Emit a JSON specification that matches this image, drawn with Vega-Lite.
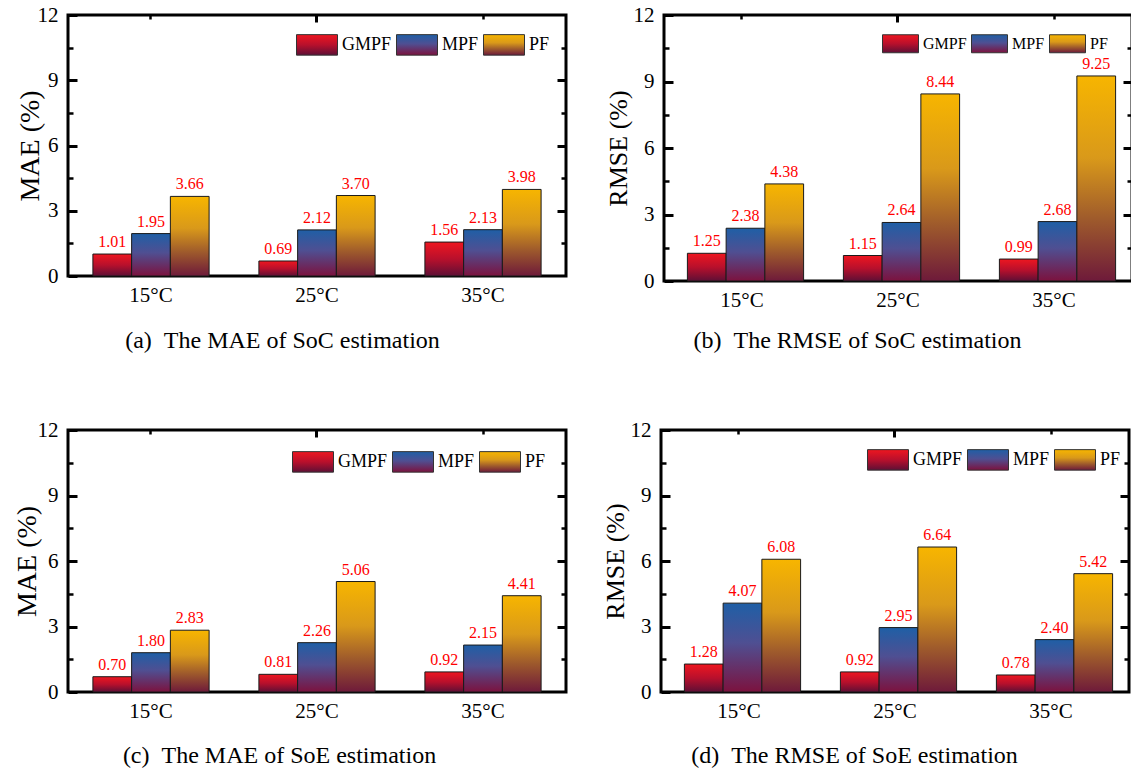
{
  "$schema": "https://vega.github.io/schema/vega-lite/v6.json",
  "background": "white",
  "padding": {"left": 11, "top": 2, "right": 0, "bottom": 0},
  "data": {"name": "errors"},
  "datasets": {
    "errors": [
      {"panel": "a", "temp": "15°C", "method": "GMPF", "value": 1.01},
      {"panel": "a", "temp": "15°C", "method": "MPF", "value": 1.95},
      {"panel": "a", "temp": "15°C", "method": "PF", "value": 3.66},
      {"panel": "a", "temp": "25°C", "method": "GMPF", "value": 0.69},
      {"panel": "a", "temp": "25°C", "method": "MPF", "value": 2.12},
      {"panel": "a", "temp": "25°C", "method": "PF", "value": 3.70},
      {"panel": "a", "temp": "35°C", "method": "GMPF", "value": 1.56},
      {"panel": "a", "temp": "35°C", "method": "MPF", "value": 2.13},
      {"panel": "a", "temp": "35°C", "method": "PF", "value": 3.98},
      {"panel": "b", "temp": "15°C", "method": "GMPF", "value": 1.25},
      {"panel": "b", "temp": "15°C", "method": "MPF", "value": 2.38},
      {"panel": "b", "temp": "15°C", "method": "PF", "value": 4.38},
      {"panel": "b", "temp": "25°C", "method": "GMPF", "value": 1.15},
      {"panel": "b", "temp": "25°C", "method": "MPF", "value": 2.64},
      {"panel": "b", "temp": "25°C", "method": "PF", "value": 8.44},
      {"panel": "b", "temp": "35°C", "method": "GMPF", "value": 0.99},
      {"panel": "b", "temp": "35°C", "method": "MPF", "value": 2.68},
      {"panel": "b", "temp": "35°C", "method": "PF", "value": 9.25},
      {"panel": "c", "temp": "15°C", "method": "GMPF", "value": 0.70},
      {"panel": "c", "temp": "15°C", "method": "MPF", "value": 1.80},
      {"panel": "c", "temp": "15°C", "method": "PF", "value": 2.83},
      {"panel": "c", "temp": "25°C", "method": "GMPF", "value": 0.81},
      {"panel": "c", "temp": "25°C", "method": "MPF", "value": 2.26},
      {"panel": "c", "temp": "25°C", "method": "PF", "value": 5.06},
      {"panel": "c", "temp": "35°C", "method": "GMPF", "value": 0.92},
      {"panel": "c", "temp": "35°C", "method": "MPF", "value": 2.15},
      {"panel": "c", "temp": "35°C", "method": "PF", "value": 4.41},
      {"panel": "d", "temp": "15°C", "method": "GMPF", "value": 1.28},
      {"panel": "d", "temp": "15°C", "method": "MPF", "value": 4.07},
      {"panel": "d", "temp": "15°C", "method": "PF", "value": 6.08},
      {"panel": "d", "temp": "25°C", "method": "GMPF", "value": 0.92},
      {"panel": "d", "temp": "25°C", "method": "MPF", "value": 2.95},
      {"panel": "d", "temp": "25°C", "method": "PF", "value": 6.64},
      {"panel": "d", "temp": "35°C", "method": "GMPF", "value": 0.78},
      {"panel": "d", "temp": "35°C", "method": "MPF", "value": 2.40},
      {"panel": "d", "temp": "35°C", "method": "PF", "value": 5.42}
    ]
  },
  "config": {
    "font": "Liberation Serif",
    "view": {"stroke": "#000000", "strokeWidth": 3},
    "axis": {
      "domain": false,
      "grid": false,
      "labelFont": "Liberation Serif",
      "labelFontSize": 21,
      "labelColor": "#000000",
      "titleFont": "Liberation Serif",
      "titleColor": "#000000",
      "titleFontWeight": "normal",
      "tickColor": "#000000"
    },
    "legend": {
      "direction": "horizontal",
      "padding": 0,
      "labelFont": "Liberation Serif",
      "labelFontSize": 18,
      "labelColor": "#000000",
      "labelOffset": 4,
      "columnPadding": 2,
      "symbolType": "M-1,-0.5H1V0.5H-1Z",
      "symbolSize": 1681,
      "symbolStrokeColor": "#333333",
      "symbolStrokeWidth": 1,
      "symbolOpacity": 1
    }
  },
  "spacing": 63,
  "resolve": {"scale": {"color": "independent"}, "legend": {"color": "independent"}},
  "vconcat": [
    {
      "spacing": 34,
      "resolve": {"scale": {"color": "independent"}, "legend": {"color": "independent"}},
      "hconcat": [
        {
          "width": 498, "height": 261,
          "transform": [{"filter": "datum.panel === 'a'"}],
          "layer": [
            {
              "mark": {"type": "bar", "stroke": "#1a1a1a", "strokeWidth": 1},
              "encoding": {
                "x": {"field": "temp", "type": "nominal", "sort": ["15°C", "25°C", "35°C"], "scale": {"paddingInner": 0.3, "paddingOuter": 0.15},
                  "axis": {"orient": "bottom", "ticks": false, "tickSize": 0, "labelPadding": 8, "labelAngle": 0, "title": "(a)\u00a0\u00a0The MAE of SoC estimation", "titleFontSize": 24, "titleX": 214, "titleY": 71, "titleBaseline": "alphabetic", "titleAlign": "center"}},
                "xOffset": {"field": "method", "type": "nominal", "sort": ["GMPF", "MPF", "PF"]},
                "y": {"field": "value", "type": "quantitative", "scale": {"domain": [0, 12], "nice": false},
                  "axis": {"orient": "left", "values": [0, 3, 6, 9, 12], "offset": -9, "tickSize": 9, "tickWidth": 3, "labelPadding": 10, "title": "MAE (%)", "titleFontSize": 28, "titleX": -39, "titleBaseline": "alphabetic", "titleAngle": -90}},
                "fill": {
                  "condition": [
                    {"test": "datum.method === 'GMPF'", "value": {"gradient": "linear", "x1": 0, "y1": 0, "x2": 0, "y2": 1, "stops": [{"offset": 0, "color": "#ee1620"}, {"offset": 0.5, "color": "#b8102c"}, {"offset": 1, "color": "#5e0f35"}]}},
                    {"test": "datum.method === 'MPF'", "value": {"gradient": "linear", "x1": 0, "y1": 0, "x2": 0, "y2": 1, "stops": [{"offset": 0, "color": "#1f5fa6"}, {"offset": 0.45, "color": "#4f4f92"}, {"offset": 1, "color": "#7c123e"}]}}
                  ],
                  "value": {"gradient": "linear", "x1": 0, "y1": 0, "x2": 0, "y2": 1, "stops": [{"offset": 0, "color": "#f7b500"}, {"offset": 0.4, "color": "#d9991a"}, {"offset": 0.7, "color": "#9e5a2c"}, {"offset": 1, "color": "#6e1a3a"}]}
                }
              }
            },
            {
              "mark": {"type": "text", "color": "#ff0000", "fontSize": 16, "baseline": "alphabetic", "dy": -7},
              "encoding": {
                "x": {"field": "temp", "type": "nominal", "sort": ["15°C", "25°C", "35°C"], "scale": {"paddingInner": 0.3, "paddingOuter": 0.15},
                  "axis": {"orient": "top", "values": ["25°C"], "labels": false, "offset": -7, "tickSize": 7, "tickWidth": 3, "title": null}},
                "xOffset": {"field": "method", "type": "nominal", "sort": ["GMPF", "MPF", "PF"]},
                "y": {"field": "value", "type": "quantitative", "scale": {"domain": [0, 12], "nice": false},
                  "axis": {"orient": "right", "values": [3, 6, 9], "labels": false, "offset": -9, "tickSize": 9, "tickWidth": 3, "title": null}},
                "text": {"field": "value", "type": "quantitative", "format": ".2f"}
              }
            },
            {
              "mark": {"type": "point", "opacity": 0},
              "encoding": {
                "x": {"field": "temp", "type": "nominal", "sort": ["15°C", "25°C", "35°C"], "scale": {"paddingInner": 0.3, "paddingOuter": 0.15},
                  "axis": {"orient": "top", "values": ["15°C", "35°C"], "labels": false, "offset": -4, "tickSize": 4, "tickWidth": 2.5, "title": null}},
                "xOffset": {"field": "method", "type": "nominal", "sort": ["GMPF", "MPF", "PF"]},
                "y": {"field": "value", "type": "quantitative", "scale": {"domain": [0, 12], "nice": false},
                  "axis": {"orient": "left", "values": [1.5, 4.5, 7.5, 10.5], "labels": false, "offset": -5, "tickSize": 5, "tickWidth": 2.5, "title": null}}
              }
            },
            {
              "mark": {"type": "point", "filled": true, "opacity": 0},
              "encoding": {
                "x": {"field": "temp", "type": "nominal", "sort": ["15°C", "25°C", "35°C"], "scale": {"paddingInner": 0.3, "paddingOuter": 0.15}, "axis": null},
                "xOffset": {"field": "method", "type": "nominal", "sort": ["GMPF", "MPF", "PF"]},
                "y": {"field": "value", "type": "quantitative", "scale": {"domain": [0, 12], "nice": false},
                  "axis": {"orient": "right", "values": [1.5, 4.5, 7.5, 10.5], "labels": false, "offset": -5, "tickSize": 5, "tickWidth": 2.5, "title": null}},
                "color": {"field": "method", "type": "nominal", "sort": ["GMPF", "MPF", "PF"],
                  "scale": {"domain": ["GMPF", "MPF", "PF"], "range": [
                    {"expr": "{gradient: 'linear', x1: 0, y1: 0, x2: 0, y2: 1, stops: [{offset: 0, color: '#ee1620'}, {offset: 0.5, color: '#b8102c'}, {offset: 1, color: '#5e0f35'}]}"},
                    {"expr": "{gradient: 'linear', x1: 0, y1: 0, x2: 0, y2: 1, stops: [{offset: 0, color: '#1f5fa6'}, {offset: 0.45, color: '#4f4f92'}, {offset: 1, color: '#7c123e'}]}"},
                    {"expr": "{gradient: 'linear', x1: 0, y1: 0, x2: 0, y2: 1, stops: [{offset: 0, color: '#f7b500'}, {offset: 0.4, color: '#d9991a'}, {offset: 0.7, color: '#9e5a2c'}, {offset: 1, color: '#6e1a3a'}]}"}
                  ]},
                  "legend": {"title": null, "orient": "none", "legendX": 228, "legendY": 8.5}}
              }
            }
          ],
          "resolve": {"axis": {"x": "independent", "y": "independent"}}
        },
        {
          "width": 468, "height": 266,
          "transform": [{"filter": "datum.panel === 'b'"}],
          "layer": [
            {
              "mark": {"type": "bar", "stroke": "#1a1a1a", "strokeWidth": 1},
              "encoding": {
                "x": {"field": "temp", "type": "nominal", "sort": ["15°C", "25°C", "35°C"], "scale": {"paddingInner": 0.3, "paddingOuter": 0.15},
                  "axis": {"orient": "bottom", "ticks": false, "tickSize": 0, "labelPadding": 8, "labelAngle": 0, "title": "(b)\u00a0\u00a0The RMSE of SoC estimation", "titleFontSize": 24, "titleX": 193, "titleY": 66, "titleBaseline": "alphabetic", "titleAlign": "center"}},
                "xOffset": {"field": "method", "type": "nominal", "sort": ["GMPF", "MPF", "PF"]},
                "y": {"field": "value", "type": "quantitative", "scale": {"domain": [0, 12], "nice": false},
                  "axis": {"orient": "left", "values": [0, 3, 6, 9, 12], "offset": -9, "tickSize": 9, "tickWidth": 3, "labelPadding": 10, "title": "RMSE (%)", "titleFontSize": 26, "titleX": -47, "titleBaseline": "alphabetic", "titleAngle": -90}},
                "fill": {
                  "condition": [
                    {"test": "datum.method === 'GMPF'", "value": {"gradient": "linear", "x1": 0, "y1": 0, "x2": 0, "y2": 1, "stops": [{"offset": 0, "color": "#ee1620"}, {"offset": 0.5, "color": "#b8102c"}, {"offset": 1, "color": "#5e0f35"}]}},
                    {"test": "datum.method === 'MPF'", "value": {"gradient": "linear", "x1": 0, "y1": 0, "x2": 0, "y2": 1, "stops": [{"offset": 0, "color": "#1f5fa6"}, {"offset": 0.45, "color": "#4f4f92"}, {"offset": 1, "color": "#7c123e"}]}}
                  ],
                  "value": {"gradient": "linear", "x1": 0, "y1": 0, "x2": 0, "y2": 1, "stops": [{"offset": 0, "color": "#f7b500"}, {"offset": 0.4, "color": "#d9991a"}, {"offset": 0.7, "color": "#9e5a2c"}, {"offset": 1, "color": "#6e1a3a"}]}
                }
              }
            },
            {
              "mark": {"type": "text", "color": "#ff0000", "fontSize": 16, "baseline": "alphabetic", "dy": -7},
              "encoding": {
                "x": {"field": "temp", "type": "nominal", "sort": ["15°C", "25°C", "35°C"], "scale": {"paddingInner": 0.3, "paddingOuter": 0.15},
                  "axis": {"orient": "top", "values": ["25°C"], "labels": false, "offset": -7, "tickSize": 7, "tickWidth": 3, "title": null}},
                "xOffset": {"field": "method", "type": "nominal", "sort": ["GMPF", "MPF", "PF"]},
                "y": {"field": "value", "type": "quantitative", "scale": {"domain": [0, 12], "nice": false},
                  "axis": {"orient": "right", "values": [3, 6, 9], "labels": false, "offset": -9, "tickSize": 9, "tickWidth": 3, "title": null}},
                "text": {"field": "value", "type": "quantitative", "format": ".2f"}
              }
            },
            {
              "mark": {"type": "point", "opacity": 0},
              "encoding": {
                "x": {"field": "temp", "type": "nominal", "sort": ["15°C", "25°C", "35°C"], "scale": {"paddingInner": 0.3, "paddingOuter": 0.15},
                  "axis": {"orient": "top", "values": ["15°C", "35°C"], "labels": false, "offset": -4, "tickSize": 4, "tickWidth": 2.5, "title": null}},
                "xOffset": {"field": "method", "type": "nominal", "sort": ["GMPF", "MPF", "PF"]},
                "y": {"field": "value", "type": "quantitative", "scale": {"domain": [0, 12], "nice": false},
                  "axis": {"orient": "left", "values": [1.5, 4.5, 7.5, 10.5], "labels": false, "offset": -5, "tickSize": 5, "tickWidth": 2.5, "title": null}}
              }
            },
            {
              "mark": {"type": "point", "filled": true, "opacity": 0},
              "encoding": {
                "x": {"field": "temp", "type": "nominal", "sort": ["15°C", "25°C", "35°C"], "scale": {"paddingInner": 0.3, "paddingOuter": 0.15}, "axis": null},
                "xOffset": {"field": "method", "type": "nominal", "sort": ["GMPF", "MPF", "PF"]},
                "y": {"field": "value", "type": "quantitative", "scale": {"domain": [0, 12], "nice": false},
                  "axis": {"orient": "right", "values": [1.5, 4.5, 7.5, 10.5], "labels": false, "offset": -5, "tickSize": 5, "tickWidth": 2.5, "title": null}},
                "color": {"field": "method", "type": "nominal", "sort": ["GMPF", "MPF", "PF"],
                  "scale": {"domain": ["GMPF", "MPF", "PF"], "range": [
                    {"expr": "{gradient: 'linear', x1: 0, y1: 0, x2: 0, y2: 1, stops: [{offset: 0, color: '#ee1620'}, {offset: 0.5, color: '#b8102c'}, {offset: 1, color: '#5e0f35'}]}"},
                    {"expr": "{gradient: 'linear', x1: 0, y1: 0, x2: 0, y2: 1, stops: [{offset: 0, color: '#1f5fa6'}, {offset: 0.45, color: '#4f4f92'}, {offset: 1, color: '#7c123e'}]}"},
                    {"expr": "{gradient: 'linear', x1: 0, y1: 0, x2: 0, y2: 1, stops: [{offset: 0, color: '#f7b500'}, {offset: 0.4, color: '#d9991a'}, {offset: 0.7, color: '#9e5a2c'}, {offset: 1, color: '#6e1a3a'}]}"}
                  ]},
                  "legend": {"title": null, "orient": "none", "legendX": 218, "legendY": 10, "symbolSize": 1296, "labelFontSize": 16}}
              }
            }
          ],
          "resolve": {"axis": {"x": "independent", "y": "independent"}}
        }
      ]
    },
    {
      "spacing": 31,
      "resolve": {"scale": {"color": "independent"}, "legend": {"color": "independent"}},
      "hconcat": [
        {
          "width": 498, "height": 262,
          "transform": [{"filter": "datum.panel === 'c'"}],
          "layer": [
            {
              "mark": {"type": "bar", "stroke": "#1a1a1a", "strokeWidth": 1},
              "encoding": {
                "x": {"field": "temp", "type": "nominal", "sort": ["15°C", "25°C", "35°C"], "scale": {"paddingInner": 0.3, "paddingOuter": 0.15},
                  "axis": {"orient": "bottom", "ticks": false, "tickSize": 0, "labelPadding": 8, "labelAngle": 0, "title": "(c)\u00a0\u00a0The MAE of SoE estimation", "titleFontSize": 24, "titleX": 211, "titleY": 70, "titleBaseline": "alphabetic", "titleAlign": "center"}},
                "xOffset": {"field": "method", "type": "nominal", "sort": ["GMPF", "MPF", "PF"]},
                "y": {"field": "value", "type": "quantitative", "scale": {"domain": [0, 12], "nice": false},
                  "axis": {"orient": "left", "values": [0, 3, 6, 9, 12], "offset": -9, "tickSize": 9, "tickWidth": 3, "labelPadding": 10, "title": "MAE (%)", "titleFontSize": 28, "titleX": -42, "titleBaseline": "alphabetic", "titleAngle": -90}},
                "fill": {
                  "condition": [
                    {"test": "datum.method === 'GMPF'", "value": {"gradient": "linear", "x1": 0, "y1": 0, "x2": 0, "y2": 1, "stops": [{"offset": 0, "color": "#ee1620"}, {"offset": 0.5, "color": "#b8102c"}, {"offset": 1, "color": "#5e0f35"}]}},
                    {"test": "datum.method === 'MPF'", "value": {"gradient": "linear", "x1": 0, "y1": 0, "x2": 0, "y2": 1, "stops": [{"offset": 0, "color": "#1f5fa6"}, {"offset": 0.45, "color": "#4f4f92"}, {"offset": 1, "color": "#7c123e"}]}}
                  ],
                  "value": {"gradient": "linear", "x1": 0, "y1": 0, "x2": 0, "y2": 1, "stops": [{"offset": 0, "color": "#f7b500"}, {"offset": 0.4, "color": "#d9991a"}, {"offset": 0.7, "color": "#9e5a2c"}, {"offset": 1, "color": "#6e1a3a"}]}
                }
              }
            },
            {
              "mark": {"type": "text", "color": "#ff0000", "fontSize": 16, "baseline": "alphabetic", "dy": -7},
              "encoding": {
                "x": {"field": "temp", "type": "nominal", "sort": ["15°C", "25°C", "35°C"], "scale": {"paddingInner": 0.3, "paddingOuter": 0.15},
                  "axis": {"orient": "top", "values": ["25°C"], "labels": false, "offset": -7, "tickSize": 7, "tickWidth": 3, "title": null}},
                "xOffset": {"field": "method", "type": "nominal", "sort": ["GMPF", "MPF", "PF"]},
                "y": {"field": "value", "type": "quantitative", "scale": {"domain": [0, 12], "nice": false},
                  "axis": {"orient": "right", "values": [3, 6, 9], "labels": false, "offset": -9, "tickSize": 9, "tickWidth": 3, "title": null}},
                "text": {"field": "value", "type": "quantitative", "format": ".2f"}
              }
            },
            {
              "mark": {"type": "point", "opacity": 0},
              "encoding": {
                "x": {"field": "temp", "type": "nominal", "sort": ["15°C", "25°C", "35°C"], "scale": {"paddingInner": 0.3, "paddingOuter": 0.15},
                  "axis": {"orient": "top", "values": ["15°C", "35°C"], "labels": false, "offset": -4, "tickSize": 4, "tickWidth": 2.5, "title": null}},
                "xOffset": {"field": "method", "type": "nominal", "sort": ["GMPF", "MPF", "PF"]},
                "y": {"field": "value", "type": "quantitative", "scale": {"domain": [0, 12], "nice": false},
                  "axis": {"orient": "left", "values": [1.5, 4.5, 7.5, 10.5], "labels": false, "offset": -5, "tickSize": 5, "tickWidth": 2.5, "title": null}}
              }
            },
            {
              "mark": {"type": "point", "filled": true, "opacity": 0},
              "encoding": {
                "x": {"field": "temp", "type": "nominal", "sort": ["15°C", "25°C", "35°C"], "scale": {"paddingInner": 0.3, "paddingOuter": 0.15}, "axis": null},
                "xOffset": {"field": "method", "type": "nominal", "sort": ["GMPF", "MPF", "PF"]},
                "y": {"field": "value", "type": "quantitative", "scale": {"domain": [0, 12], "nice": false},
                  "axis": {"orient": "right", "values": [1.5, 4.5, 7.5, 10.5], "labels": false, "offset": -5, "tickSize": 5, "tickWidth": 2.5, "title": null}},
                "color": {"field": "method", "type": "nominal", "sort": ["GMPF", "MPF", "PF"],
                  "scale": {"domain": ["GMPF", "MPF", "PF"], "range": [
                    {"expr": "{gradient: 'linear', x1: 0, y1: 0, x2: 0, y2: 1, stops: [{offset: 0, color: '#ee1620'}, {offset: 0.5, color: '#b8102c'}, {offset: 1, color: '#5e0f35'}]}"},
                    {"expr": "{gradient: 'linear', x1: 0, y1: 0, x2: 0, y2: 1, stops: [{offset: 0, color: '#1f5fa6'}, {offset: 0.45, color: '#4f4f92'}, {offset: 1, color: '#7c123e'}]}"},
                    {"expr": "{gradient: 'linear', x1: 0, y1: 0, x2: 0, y2: 1, stops: [{offset: 0, color: '#f7b500'}, {offset: 0.4, color: '#d9991a'}, {offset: 0.7, color: '#9e5a2c'}, {offset: 1, color: '#6e1a3a'}]}"}
                  ]},
                  "legend": {"title": null, "orient": "none", "legendX": 224, "legendY": 10.5}}
              }
            }
          ],
          "resolve": {"axis": {"x": "independent", "y": "independent"}}
        },
        {
          "width": 468, "height": 262,
          "transform": [{"filter": "datum.panel === 'd'"}],
          "layer": [
            {
              "mark": {"type": "bar", "stroke": "#1a1a1a", "strokeWidth": 1},
              "encoding": {
                "x": {"field": "temp", "type": "nominal", "sort": ["15°C", "25°C", "35°C"], "scale": {"paddingInner": 0.3, "paddingOuter": 0.15},
                  "axis": {"orient": "bottom", "ticks": false, "tickSize": 0, "labelPadding": 8, "labelAngle": 0, "title": "(d)\u00a0\u00a0The RMSE of SoE estimation", "titleFontSize": 24, "titleX": 193, "titleY": 70, "titleBaseline": "alphabetic", "titleAlign": "center"}},
                "xOffset": {"field": "method", "type": "nominal", "sort": ["GMPF", "MPF", "PF"]},
                "y": {"field": "value", "type": "quantitative", "scale": {"domain": [0, 12], "nice": false},
                  "axis": {"orient": "left", "values": [0, 3, 6, 9, 12], "offset": -9, "tickSize": 9, "tickWidth": 3, "labelPadding": 10, "title": "RMSE (%)", "titleFontSize": 26, "titleX": -47, "titleBaseline": "alphabetic", "titleAngle": -90}},
                "fill": {
                  "condition": [
                    {"test": "datum.method === 'GMPF'", "value": {"gradient": "linear", "x1": 0, "y1": 0, "x2": 0, "y2": 1, "stops": [{"offset": 0, "color": "#ee1620"}, {"offset": 0.5, "color": "#b8102c"}, {"offset": 1, "color": "#5e0f35"}]}},
                    {"test": "datum.method === 'MPF'", "value": {"gradient": "linear", "x1": 0, "y1": 0, "x2": 0, "y2": 1, "stops": [{"offset": 0, "color": "#1f5fa6"}, {"offset": 0.45, "color": "#4f4f92"}, {"offset": 1, "color": "#7c123e"}]}}
                  ],
                  "value": {"gradient": "linear", "x1": 0, "y1": 0, "x2": 0, "y2": 1, "stops": [{"offset": 0, "color": "#f7b500"}, {"offset": 0.4, "color": "#d9991a"}, {"offset": 0.7, "color": "#9e5a2c"}, {"offset": 1, "color": "#6e1a3a"}]}
                }
              }
            },
            {
              "mark": {"type": "text", "color": "#ff0000", "fontSize": 16, "baseline": "alphabetic", "dy": -7},
              "encoding": {
                "x": {"field": "temp", "type": "nominal", "sort": ["15°C", "25°C", "35°C"], "scale": {"paddingInner": 0.3, "paddingOuter": 0.15},
                  "axis": {"orient": "top", "values": ["25°C"], "labels": false, "offset": -7, "tickSize": 7, "tickWidth": 3, "title": null}},
                "xOffset": {"field": "method", "type": "nominal", "sort": ["GMPF", "MPF", "PF"]},
                "y": {"field": "value", "type": "quantitative", "scale": {"domain": [0, 12], "nice": false},
                  "axis": {"orient": "right", "values": [3, 6, 9], "labels": false, "offset": -9, "tickSize": 9, "tickWidth": 3, "title": null}},
                "text": {"field": "value", "type": "quantitative", "format": ".2f"}
              }
            },
            {
              "mark": {"type": "point", "opacity": 0},
              "encoding": {
                "x": {"field": "temp", "type": "nominal", "sort": ["15°C", "25°C", "35°C"], "scale": {"paddingInner": 0.3, "paddingOuter": 0.15},
                  "axis": {"orient": "top", "values": ["15°C", "35°C"], "labels": false, "offset": -4, "tickSize": 4, "tickWidth": 2.5, "title": null}},
                "xOffset": {"field": "method", "type": "nominal", "sort": ["GMPF", "MPF", "PF"]},
                "y": {"field": "value", "type": "quantitative", "scale": {"domain": [0, 12], "nice": false},
                  "axis": {"orient": "left", "values": [1.5, 4.5, 7.5, 10.5], "labels": false, "offset": -5, "tickSize": 5, "tickWidth": 2.5, "title": null}}
              }
            },
            {
              "mark": {"type": "point", "filled": true, "opacity": 0},
              "encoding": {
                "x": {"field": "temp", "type": "nominal", "sort": ["15°C", "25°C", "35°C"], "scale": {"paddingInner": 0.3, "paddingOuter": 0.15}, "axis": null},
                "xOffset": {"field": "method", "type": "nominal", "sort": ["GMPF", "MPF", "PF"]},
                "y": {"field": "value", "type": "quantitative", "scale": {"domain": [0, 12], "nice": false},
                  "axis": {"orient": "right", "values": [1.5, 4.5, 7.5, 10.5], "labels": false, "offset": -5, "tickSize": 5, "tickWidth": 2.5, "title": null}},
                "color": {"field": "method", "type": "nominal", "sort": ["GMPF", "MPF", "PF"],
                  "scale": {"domain": ["GMPF", "MPF", "PF"], "range": [
                    {"expr": "{gradient: 'linear', x1: 0, y1: 0, x2: 0, y2: 1, stops: [{offset: 0, color: '#ee1620'}, {offset: 0.5, color: '#b8102c'}, {offset: 1, color: '#5e0f35'}]}"},
                    {"expr": "{gradient: 'linear', x1: 0, y1: 0, x2: 0, y2: 1, stops: [{offset: 0, color: '#1f5fa6'}, {offset: 0.45, color: '#4f4f92'}, {offset: 1, color: '#7c123e'}]}"},
                    {"expr": "{gradient: 'linear', x1: 0, y1: 0, x2: 0, y2: 1, stops: [{offset: 0, color: '#f7b500'}, {offset: 0.4, color: '#d9991a'}, {offset: 0.7, color: '#9e5a2c'}, {offset: 1, color: '#6e1a3a'}]}"}
                  ]},
                  "legend": {"title": null, "orient": "none", "legendX": 206, "legendY": 8.5}}
              }
            }
          ],
          "resolve": {"axis": {"x": "independent", "y": "independent"}}
        }
      ]
    }
  ]
}
